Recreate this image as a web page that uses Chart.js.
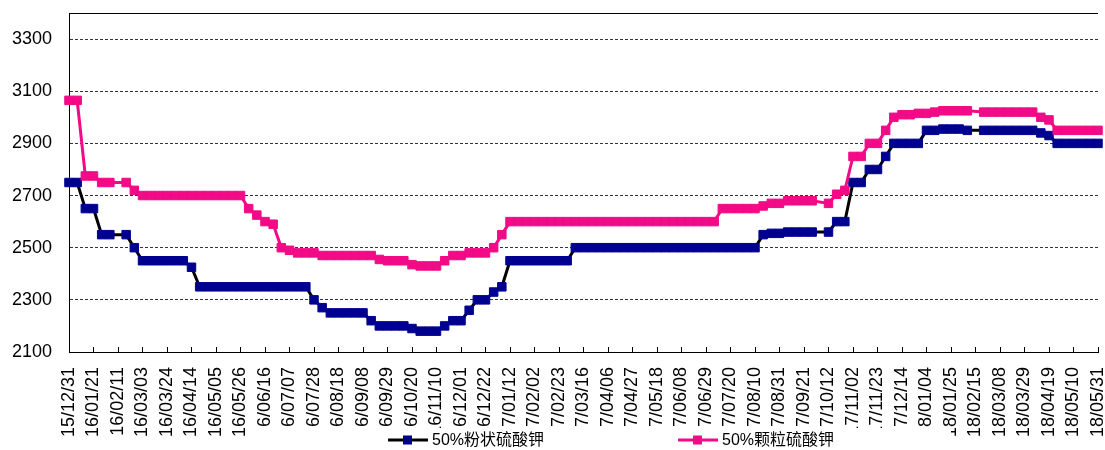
<!DOCTYPE html>
<html>
<head>
<meta charset="utf-8">
<script src="https://cdn.jsdelivr.net/npm/chart.js@4.4.0/dist/chart.umd.min.js"></script>
<style>
  html, body { margin: 0; padding: 0; background: #fff; }
  #wrap { width: 1105px; height: 450px; overflow: hidden; }
</style>
</head>
<body>
<div id="wrap"><canvas id="chart" width="1105" height="450"></canvas></div>
<script>
// weekly quotes, one Thursday per point (holiday weeks left empty)
const dates = [
  "15/12/31",
  "16/01/07", "16/01/14", "16/01/21", "16/01/28", "16/02/04", "16/02/11", "16/02/18", "16/02/25",
  "16/03/03", "16/03/10", "16/03/17", "16/03/24", "16/03/31", "16/04/07", "16/04/14", "16/04/21",
  "16/04/28", "16/05/05", "16/05/12", "16/05/19", "16/05/26", "16/06/02", "16/06/09", "16/06/16",
  "16/06/23", "16/06/30", "16/07/07", "16/07/14", "16/07/21", "16/07/28", "16/08/04", "16/08/11",
  "16/08/18", "16/08/25", "16/09/01", "16/09/08", "16/09/15", "16/09/22", "16/09/29", "16/10/06",
  "16/10/13", "16/10/20", "16/10/27", "16/11/03", "16/11/10", "16/11/17", "16/11/24", "16/12/01",
  "16/12/08", "16/12/15", "16/12/22", "16/12/29",
  "17/01/05", "17/01/12", "17/01/19", "17/01/26", "17/02/02", "17/02/09", "17/02/16", "17/02/23",
  "17/03/02", "17/03/09", "17/03/16", "17/03/23", "17/03/30", "17/04/06", "17/04/13", "17/04/20",
  "17/04/27", "17/05/04", "17/05/11", "17/05/18", "17/05/25", "17/06/01", "17/06/08", "17/06/15",
  "17/06/22", "17/06/29", "17/07/06", "17/07/13", "17/07/20", "17/07/27", "17/08/03", "17/08/10",
  "17/08/17", "17/08/24", "17/08/31", "17/09/07", "17/09/14", "17/09/21", "17/09/28", "17/10/05",
  "17/10/12", "17/10/19", "17/10/26", "17/11/02", "17/11/09", "17/11/16", "17/11/23", "17/11/30",
  "17/12/07", "17/12/14", "17/12/21", "17/12/28",
  "18/01/04", "18/01/11", "18/01/18", "18/01/25", "18/02/01", "18/02/08", "18/02/15", "18/02/22",
  "18/03/01", "18/03/08", "18/03/15", "18/03/22", "18/03/29", "18/04/05", "18/04/12", "18/04/19",
  "18/04/26", "18/05/03", "18/05/10", "18/05/17", "18/05/24", "18/05/31"
]

const powderPrice = [
  2750, 2750, 2650, 2650, 2550, 2550, null, 2550, 2500, 2450,
  2450, 2450, 2450, 2450, 2450, 2425, 2350, 2350, 2350, 2350,
  2350, 2350, 2350, 2350, 2350, 2350, 2350, 2350, 2350, 2350,
  2300, 2270, 2250, 2250, 2250, 2250, 2250, 2220, 2200, 2200,
  2200, 2200, 2190, 2180, 2180, 2180, 2200, 2220, 2220, 2260,
  2300, 2300, 2330, 2350, 2450, 2450, 2450, 2450, 2450, 2450,
  2450, 2450, 2500, 2500, 2500, 2500, 2500, 2500, 2500, 2500,
  2500, 2500, 2500, 2500, 2500, 2500, 2500, 2500, 2500, 2500,
  2500, 2500, 2500, 2500, 2500, 2550, 2555, 2555, 2560, 2560,
  2560, 2560, null, 2560, 2600, 2600, 2750, 2750, 2800, 2800,
  2850, 2900, 2900, 2900, 2900, 2950, 2950, 2955, 2955, 2955,
  2950, null, 2950, 2950, 2950, 2950, 2950, 2950, 2950, 2940,
  2930, 2900, 2900, 2900, 2900, 2900, 2900
]

const granularPrice = [
  3065, 3065, 2775, 2775, 2750, 2750, null, 2750, 2720, 2700,
  2700, 2700, 2700, 2700, 2700, 2700, 2700, 2700, 2700, 2700,
  2700, 2700, 2650, 2625, 2600, 2590, 2500, 2490, 2480, 2480,
  2480, 2470, 2470, 2470, 2470, 2470, 2470, 2470, 2455, 2450,
  2450, 2450, 2435, 2430, 2430, 2430, 2450, 2470, 2470, 2480,
  2480, 2480, 2500, 2550, 2600, 2600, 2600, 2600, 2600, 2600,
  2600, 2600, 2600, 2600, 2600, 2600, 2600, 2600, 2600, 2600,
  2600, 2600, 2600, 2600, 2600, 2600, 2600, 2600, 2600, 2600,
  2650, 2650, 2650, 2650, 2650, 2660, 2670, 2670, 2680, 2680,
  2680, 2680, null, 2670, 2705, 2720, 2850, 2850, 2900, 2900,
  2950, 3000, 3010, 3010, 3015, 3015, 3020, 3025, 3025, 3025,
  3025, null, 3020, 3020, 3020, 3020, 3020, 3020, 3020, 3000,
  2990, 2950, 2950, 2950, 2950, 2950, 2950
]

const seriesNames = ["50%粉状硫酸钾", "50%颗粒硫酸钾"]
const yTickValues = [2100, 2300, 2500, 2700, 2900, 3100, 3300, 3400]
const yMin = 2100
const yMax = 3400
const labelEvery = 3

const NAVY = "#000090"
const PINK = "#F20A87"
const FONT = 'Arial, "Liberation Sans", "Noto Sans CJK SC", sans-serif'

// Excel-style legend, painted last with a white box over the label feet
const overlayLegend = {
  id: "overlayLegend",
  afterDraw(chart) {
    const ctx = chart.ctx
    const y = 440
    const items = [
      { x: 388, text: seriesNames[0], line: "#000", mark: NAVY },
      { x: 678, text: seriesNames[1], line: PINK, mark: PINK }
    ]
    ctx.save()
    ctx.fillStyle = "#fff"
    ctx.fillRect(245, 428, 706, 22)
    ctx.font = "16px " + FONT
    ctx.textBaseline = "middle"
    items.forEach((it) => {
      ctx.strokeStyle = it.line
      ctx.lineWidth = 3
      ctx.beginPath()
      ctx.moveTo(it.x, y)
      ctx.lineTo(it.x + 40, y)
      ctx.stroke()
      ctx.fillStyle = it.mark
      ctx.fillRect(it.x + 15, y - 4.5, 9, 9)
      ctx.fillStyle = "#000"
      ctx.fillText(it.text, it.x + 44, y + 1)
    })
    ctx.restore()
  }
}

new Chart(document.getElementById("chart"), {
  type: "line",
  data: {
    labels: dates,
    datasets: [
      {
        label: seriesNames[0],
        data: powderPrice,
        borderColor: "#000",
        borderWidth: 3,
        pointStyle: "rect",
        pointRadius: 6,
        pointBorderWidth: 1,
        pointBackgroundColor: NAVY,
        pointBorderColor: NAVY,
        spanGaps: true,
        tension: 0,
        clip: false,
        order: 1
      },
      {
        label: seriesNames[1],
        data: granularPrice,
        borderColor: PINK,
        borderWidth: 3,
        pointStyle: "rect",
        pointRadius: 6,
        pointBorderWidth: 1,
        pointBackgroundColor: PINK,
        pointBorderColor: PINK,
        spanGaps: true,
        tension: 0,
        clip: false,
        order: 0
      }
    ]
  },
  options: {
    responsive: false,
    animation: false,
    layout: { padding: { top: 13, right: 1, left: 0, bottom: 0 } },
    plugins: {
      legend: { display: false },
      tooltip: { enabled: false }
    },
    scales: {
      x: {
        afterBuildTicks: (axis) => {
          axis.ticks = axis.ticks.filter((t) => t.value % labelEvery === 0)
        },
        afterFit: (axis) => {
          axis.height = 98
          axis.paddingRight = 0
        },
        grid: { drawOnChartArea: false, tickLength: -5, color: "#000" },
        border: { color: "#000", width: 1 },
        ticks: {
          autoSkip: false,
          minRotation: 90,
          maxRotation: 90,
          padding: 20,
          color: "#000",
          font: { family: FONT, size: 18 }
        }
      },
      y: {
        min: yMin,
        max: yMax,
        afterBuildTicks: (axis) => {
          axis.ticks = yTickValues.map((v) => ({ value: v }))
        },
        afterFit: (axis) => {
          axis.width = 69
          axis.paddingTop = 0
          axis.paddingBottom = 0
        },
        grid: {
          drawTicks: false,
          color: (c) => (c.tick && c.tick.value === yMax ? "#000" : "#333"),
          lineWidth: 1
        },
        border: {
          color: "#000",
          width: 1,
          dash: (c) => (c.tick && c.tick.value !== yMax ? [3, 2] : [])
        },
        ticks: {
          padding: 17,
          color: "#000",
          font: { family: FONT, size: 18 },
          callback: (v) => (v === yMax ? "" : v)
        }
      }
    }
  },
  plugins: [overlayLegend]
})
</script>
</body>
</html>
